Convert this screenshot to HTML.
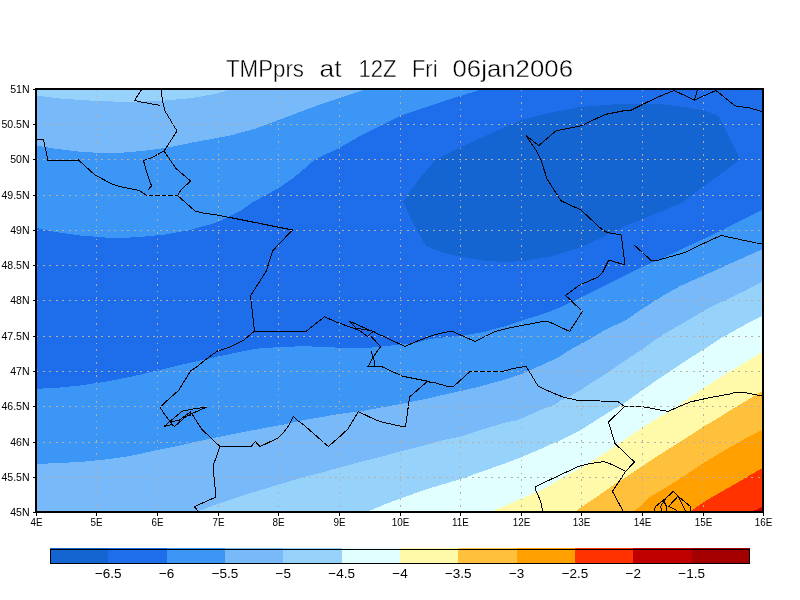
<!DOCTYPE html>
<html lang="en"><head><meta charset="utf-8"><title>TMPprs at 12Z Fri 06jan2006</title>
<style>html,body{margin:0;padding:0;background:#fff;overflow:hidden}svg{display:block}text{font-family:"Liberation Sans","DejaVu Sans",sans-serif;fill:#000}</style></head><body>
<svg width="800" height="600" viewBox="0 0 800 600">
<rect width="800" height="600" fill="#fff"/>
<defs><clipPath id="pc"><rect x="36.4" y="89.2" width="727.3" height="423.5"/></clipPath></defs>
<g clip-path="url(#pc)" shape-rendering="crispEdges">
<rect x="36.4" y="89.2" width="727.3" height="423.5" fill="#1e6eeb"/>
<polygon fill="#3c96f5" points="36.4,228.0 55.0,232.0 80.0,235.5 105.0,237.5 130.0,237.5 140.0,237.0 165.0,234.5 190.0,230.0 215.0,223.0 227.5,217.5 240.0,211.2 252.5,202.5 265.0,195.5 277.5,188.8 292.5,178.8 315.0,159.5 340.0,147.5 360.0,136.0 380.0,126.0 402.5,115.0 430.0,106.0 455.0,97.5 480.0,90.0 483.0,89.2 36.4,89.2"/>
<polygon fill="#78b9fa" points="36.4,145.5 55.0,148.7 80.0,151.7 96.0,152.7 117.5,153.0 142.5,151.0 165.0,148.0 192.5,142.5 230.0,135.5 255.0,128.8 280.0,119.5 305.0,110.0 330.0,101.0 355.0,93.0 366.0,89.2 36.4,89.2"/>
<polygon fill="#96d2fa" points="36.4,95.5 60.0,98.5 96.0,101.0 130.0,102.0 160.0,101.0 192.0,98.0 215.0,94.0 232.0,89.2 36.4,89.2"/>
<polygon fill="#1464d2" points="402.8,202.0 416.7,182.0 435.3,160.0 460.7,147.3 483.3,136.7 504.7,127.3 523.3,119.3 550.0,112.7 580.0,107.0 605.0,105.0 625.0,103.8 662.5,104.2 687.5,107.5 705.0,110.5 718.8,116.2 740.0,159.5 725.0,171.0 700.0,188.8 682.5,202.5 650.0,216.0 625.0,226.0 605.0,236.2 580.0,247.5 550.0,256.7 523.3,261.2 504.7,262.0 483.3,260.7 460.7,256.7 443.3,252.7 426.0,246.0 414.0,224.7"/>
<polygon fill="#3c96f5" points="36.4,388.8 55.0,388.0 80.0,385.5 105.0,381.8 130.0,377.0 155.0,371.2 180.0,365.0 205.0,359.5 230.0,354.0 255.0,348.8 280.0,347.0 305.0,346.2 335.0,347.5 372.0,347.5 391.0,345.5 415.0,343.0 430.0,339.0 444.0,337.4 460.6,336.0 484.0,332.0 490.0,330.0 504.0,326.5 521.4,320.8 544.0,313.5 555.0,309.5 564.0,305.5 582.0,297.0 590.0,293.0 605.0,285.5 620.0,278.0 642.5,266.7 665.0,257.0 680.0,250.2 690.0,245.2 703.3,239.2 721.7,230.5 740.0,220.8 763.6,209.3 763.6,512.7 36.4,512.7"/>
<polygon fill="#78b9fa" points="36.4,464.0 55.0,463.2 80.0,462.0 105.0,459.5 124.0,457.0 144.0,453.0 157.6,450.0 184.0,444.6 204.0,440.0 218.4,437.0 244.0,432.0 264.0,428.0 284.0,424.5 304.0,420.0 324.0,416.6 339.4,414.0 364.0,410.6 384.0,407.0 400.4,404.0 430.0,398.0 440.0,395.5 460.5,391.0 480.0,386.5 490.0,383.5 500.0,381.0 510.0,378.0 521.4,374.0 544.0,364.0 555.0,359.0 560.0,356.5 570.0,349.8 581.5,343.6 590.0,339.0 604.0,330.5 626.0,320.0 642.5,308.7 665.0,294.5 680.0,286.2 690.0,281.5 703.3,275.8 723.3,266.7 740.0,259.2 763.6,248.8 763.6,512.7 36.4,512.7"/>
<polygon fill="#96d2fa" points="194.6,512.7 199.0,511.0 218.4,503.6 244.0,495.0 264.0,489.0 284.0,483.0 304.0,477.0 324.0,472.0 339.4,467.4 364.0,461.0 384.0,456.0 400.4,451.4 424.0,445.4 444.0,440.0 460.6,436.6 484.0,429.0 504.0,423.0 518.0,420.0 544.0,408.5 555.0,404.5 560.0,400.7 570.0,396.0 581.5,389.5 590.0,383.5 600.0,377.5 610.0,371.0 620.0,364.0 630.0,357.5 642.5,349.0 660.0,336.5 670.0,330.5 680.0,325.0 690.0,319.0 703.5,311.0 715.0,305.0 726.0,300.0 745.0,290.8 763.6,281.0 763.6,512.7"/>
<polygon fill="#e1ffff" points="365.1,512.7 369.0,511.0 384.0,504.6 400.4,498.6 424.0,490.0 444.0,484.0 460.6,479.0 470.0,475.7 483.3,471.0 496.7,466.4 510.0,461.6 521.3,457.3 536.7,450.7 550.0,444.7 560.0,440.5 581.5,429.5 610.0,411.5 623.0,404.0 642.5,390.0 660.0,378.0 670.0,371.5 687.0,360.0 703.5,349.5 720.0,338.5 724.0,336.5 740.0,327.5 750.0,322.0 763.6,315.0 763.6,512.7"/>
<polygon fill="#fffaaa" points="488.7,512.7 492.7,511.0 510.0,503.7 521.3,498.7 536.7,492.0 550.0,485.5 560.0,479.0 581.5,467.5 594.0,460.0 604.0,453.5 620.0,442.5 642.5,427.5 654.0,420.0 670.0,411.0 677.0,406.5 690.0,397.0 703.5,388.0 720.0,377.5 730.0,371.5 749.0,360.0 763.6,351.5 763.6,512.7"/>
<polygon fill="#ffc03c" points="573.7,512.7 576.0,511.0 581.5,507.0 600.0,494.5 620.0,480.5 623.0,479.0 642.5,466.0 660.0,454.5 679.0,442.5 690.0,435.5 703.5,426.5 715.0,420.0 730.0,410.5 750.0,398.5 763.6,390.5 763.6,512.7"/>
<polygon fill="#ffa000" points="631.8,512.7 634.0,511.0 640.0,506.5 650.0,497.0 670.0,485.0 679.0,479.5 693.0,470.0 703.5,463.0 720.0,453.0 738.0,442.5 750.0,436.0 763.6,429.0 763.6,512.7"/>
<polygon fill="#ff3200" points="688.6,512.7 691.0,511.0 703.0,502.5 720.0,492.5 742.0,480.0 750.0,475.0 763.6,467.5 763.6,512.7"/>
<polygon fill="#c00000" points="749.0,512.7 753.0,511.0 763.6,506.5 763.6,512.7"/>
</g>
<g clip-path="url(#pc)" stroke="#000" stroke-width="1" fill="none" stroke-linejoin="round" shape-rendering="crispEdges">
<polyline points="36.4,139.2 43.5,139.5 48.0,160.5 78.5,160.0 95.0,175.0 112.0,184.0 120.0,186.5 139.0,190.5 147.0,195.5 177.5,195.5 195.0,211.0 203.0,213.0 217.0,215.0 230.0,217.5 292.5,230.0 279.0,244.0 272.5,251.2 266.2,271.2 250.5,295.8 254.5,331.2"/>
<polyline points="141.8,89.2 134.5,100.5 141.0,102.0 160.5,105.5"/>
<polyline points="161.0,89.2 162.5,101.0 165.0,111.0 177.0,131.0 164.0,151.0 151.0,158.0 143.5,160.5 146.0,170.0 151.5,186.0 147.5,190.5"/>
<polyline points="164.0,151.0 176.0,168.5 190.5,181.0 181.0,190.0 177.5,195.5"/>
<polyline points="526.0,135.5 538.8,145.5 556.0,130.8 581.0,125.8 605.0,114.5 622.5,111.0 630.0,110.8 643.8,103.8 660.0,96.2 674.0,90.5 694.5,100.0 697.5,89.2"/>
<polyline points="694.5,100.0 716.0,90.5 735.0,105.8 750.0,108.0 763.6,112.0"/>
<polyline points="526.0,135.5 537.5,152.5 541.0,160.0 547.0,178.8 561.0,200.8 581.0,210.0 602.5,230.0 607.5,232.5 621.2,235.0 625.0,265.0 608.8,260.0 602.5,272.5 598.0,277.0 579.0,285.4 565.6,295.4 582.4,311.4 569.6,331.4 548.0,321.4 540.0,322.0 512.0,327.4 495.0,331.4 475.0,341.4 452.4,331.4 444.0,332.4 430.0,336.2 415.0,342.0 405.0,346.5 375.0,332.5 349.5,321.2 356.0,328.0 372.0,331.0"/>
<polyline points="634.2,245.0 651.2,260.5 658.8,260.0 685.0,252.5 700.0,245.0 721.2,235.5 740.0,239.5 756.2,243.0 763.6,243.2"/>
<polyline points="179.0,390.0 185.0,380.0 191.0,370.5 196.0,367.5 205.0,360.0 217.5,351.0 230.0,347.0 243.8,340.0 254.5,331.2 306.2,331.2 324.5,316.8 335.0,321.5 350.0,327.0 359.5,330.5 367.5,336.5 372.0,332.2 375.5,331.5"/>
<polyline points="371.0,336.2 380.5,346.8 373.5,356.5 368.0,366.5 381.5,366.5 388.8,370.0 402.5,376.2 427.5,381.2 430.0,382.2 436.0,383.0 448.0,386.5 453.5,386.5 470.0,371.5 503.0,371.5 512.0,368.6 526.0,366.4 529.0,371.0 538.0,386.0 544.0,389.0 553.0,393.0 563.0,397.0 578.0,400.5 582.0,400.5 618.0,401.5 624.5,406.5 642.0,406.6 668.0,411.4 690.0,402.0 708.0,398.0 732.0,393.6 735.0,392.0 742.5,392.0 747.0,393.0 763.6,396.2"/>
<polyline points="371.2,351.2 372.8,357.0 374.5,361.5 374.5,366.5"/>
<polyline points="179.0,390.0 165.0,402.5 160.0,407.2 165.0,415.0 170.5,422.0 174.5,426.5"/>
<polyline points="164.0,426.5 182.0,411.2 190.0,409.5 207.0,407.0 192.0,413.5 186.0,416.5 174.5,426.5 171.5,424.5 164.0,426.5"/>
<polyline points="170.5,422.0 179.5,420.0 187.0,414.5 190.5,411.5 191.0,415.5 187.5,415.0"/>
<polyline points="192.0,414.0 201.5,429.0 220.0,446.6 251.0,446.6 255.4,441.6 260.0,446.6 278.0,438.0 284.0,432.0 289.0,425.0 293.4,416.6 298.0,421.0 302.0,423.4 328.4,446.6 341.0,435.4 348.0,429.0 358.4,411.6 375.0,419.6 384.0,422.6 402.0,426.4 405.6,426.0 409.6,397.0 414.0,393.0 416.2,391.2 427.5,381.2"/>
<polyline points="220.0,446.6 213.0,466.0 216.0,497.0 194.4,506.6 198.0,511.0"/>
<polyline points="624.5,406.5 608.5,422.0 615.0,443.5 634.4,462.0 625.6,471.4 612.4,491.4 624.0,512.7"/>
<polyline points="543.0,512.7 540.6,501.0 536.0,491.0 535.4,486.6 558.0,476.0 578.0,466.6 588.0,464.0 604.0,461.5 612.0,464.6 625.6,471.4"/>
<polyline points="653.5,512.7 655.5,506.5 665.5,498.5 673.5,491.2 678.0,496.2 690.5,506.5 690.5,512.7"/>
<polyline points="665.5,498.5 664.0,501.5 660.5,506.5 662.5,512.7"/>
<polyline points="664.0,501.5 666.2,506.0 666.2,512.7"/>
<polyline points="678.0,496.2 668.5,506.5 677.5,510.5"/>
<polyline points="678.0,496.2 686.5,512.7"/>
</g>
<g stroke="#b8aea3" stroke-width="1" stroke-dasharray="1.7,4.8" fill="none" shape-rendering="crispEdges">
<line x1="96.5" y1="89.2" x2="96.5" y2="512.7"/>
<line x1="157.5" y1="89.2" x2="157.5" y2="512.7"/>
<line x1="218.5" y1="89.2" x2="218.5" y2="512.7"/>
<line x1="278.5" y1="89.2" x2="278.5" y2="512.7"/>
<line x1="339.5" y1="89.2" x2="339.5" y2="512.7"/>
<line x1="400.5" y1="89.2" x2="400.5" y2="512.7"/>
<line x1="460.5" y1="89.2" x2="460.5" y2="512.7"/>
<line x1="521.5" y1="89.2" x2="521.5" y2="512.7"/>
<line x1="581.5" y1="89.2" x2="581.5" y2="512.7"/>
<line x1="642.5" y1="89.2" x2="642.5" y2="512.7"/>
<line x1="703.5" y1="89.2" x2="703.5" y2="512.7"/>
<line x1="36.4" y1="124.5" x2="763.6" y2="124.5"/>
<line x1="36.4" y1="159.5" x2="763.6" y2="159.5"/>
<line x1="36.4" y1="195.5" x2="763.6" y2="195.5"/>
<line x1="36.4" y1="230.5" x2="763.6" y2="230.5"/>
<line x1="36.4" y1="265.5" x2="763.6" y2="265.5"/>
<line x1="36.4" y1="300.5" x2="763.6" y2="300.5"/>
<line x1="36.4" y1="336.5" x2="763.6" y2="336.5"/>
<line x1="36.4" y1="371.5" x2="763.6" y2="371.5"/>
<line x1="36.4" y1="406.5" x2="763.6" y2="406.5"/>
<line x1="36.4" y1="442.5" x2="763.6" y2="442.5"/>
<line x1="36.4" y1="477.5" x2="763.6" y2="477.5"/>
</g>
<g stroke="#000" fill="none" shape-rendering="crispEdges">
<rect x="36" y="89" width="727" height="423" stroke-width="2"/>
<line x1="36.5" y1="513" x2="36.5" y2="516" stroke-width="1"/>
<line x1="96.5" y1="513" x2="96.5" y2="516" stroke-width="1"/>
<line x1="157.5" y1="513" x2="157.5" y2="516" stroke-width="1"/>
<line x1="218.5" y1="513" x2="218.5" y2="516" stroke-width="1"/>
<line x1="278.5" y1="513" x2="278.5" y2="516" stroke-width="1"/>
<line x1="339.5" y1="513" x2="339.5" y2="516" stroke-width="1"/>
<line x1="400.5" y1="513" x2="400.5" y2="516" stroke-width="1"/>
<line x1="460.5" y1="513" x2="460.5" y2="516" stroke-width="1"/>
<line x1="521.5" y1="513" x2="521.5" y2="516" stroke-width="1"/>
<line x1="581.5" y1="513" x2="581.5" y2="516" stroke-width="1"/>
<line x1="642.5" y1="513" x2="642.5" y2="516" stroke-width="1"/>
<line x1="703.5" y1="513" x2="703.5" y2="516" stroke-width="1"/>
<line x1="763.5" y1="513" x2="763.5" y2="516" stroke-width="1"/>
<line x1="33" y1="89.5" x2="35" y2="89.5" stroke-width="1"/>
<line x1="33" y1="124.5" x2="35" y2="124.5" stroke-width="1"/>
<line x1="33" y1="159.5" x2="35" y2="159.5" stroke-width="1"/>
<line x1="33" y1="195.5" x2="35" y2="195.5" stroke-width="1"/>
<line x1="33" y1="230.5" x2="35" y2="230.5" stroke-width="1"/>
<line x1="33" y1="265.5" x2="35" y2="265.5" stroke-width="1"/>
<line x1="33" y1="300.5" x2="35" y2="300.5" stroke-width="1"/>
<line x1="33" y1="336.5" x2="35" y2="336.5" stroke-width="1"/>
<line x1="33" y1="371.5" x2="35" y2="371.5" stroke-width="1"/>
<line x1="33" y1="406.5" x2="35" y2="406.5" stroke-width="1"/>
<line x1="33" y1="442.5" x2="35" y2="442.5" stroke-width="1"/>
<line x1="33" y1="477.5" x2="35" y2="477.5" stroke-width="1"/>
<line x1="33" y1="512.5" x2="35" y2="512.5" stroke-width="1"/>
</g>
<g font-size="11.5px">
<text transform="translate(36.5,526) scale(0.86,1)" text-anchor="middle">4E</text>
<text transform="translate(96.5,526) scale(0.86,1)" text-anchor="middle">5E</text>
<text transform="translate(157.5,526) scale(0.86,1)" text-anchor="middle">6E</text>
<text transform="translate(218.5,526) scale(0.86,1)" text-anchor="middle">7E</text>
<text transform="translate(278.5,526) scale(0.86,1)" text-anchor="middle">8E</text>
<text transform="translate(339.5,526) scale(0.86,1)" text-anchor="middle">9E</text>
<text transform="translate(400.5,526) scale(0.86,1)" text-anchor="middle">10E</text>
<text transform="translate(460.5,526) scale(0.86,1)" text-anchor="middle">11E</text>
<text transform="translate(521.5,526) scale(0.86,1)" text-anchor="middle">12E</text>
<text transform="translate(581.5,526) scale(0.86,1)" text-anchor="middle">13E</text>
<text transform="translate(642.5,526) scale(0.86,1)" text-anchor="middle">14E</text>
<text transform="translate(703.5,526) scale(0.86,1)" text-anchor="middle">15E</text>
<text transform="translate(763.5,526) scale(0.86,1)" text-anchor="middle">16E</text>
<text transform="translate(29.6,93.4) scale(0.92,1)" text-anchor="end">51N</text>
<text transform="translate(29.6,128.4) scale(0.92,1)" text-anchor="end">50.5N</text>
<text transform="translate(29.6,163.4) scale(0.92,1)" text-anchor="end">50N</text>
<text transform="translate(29.6,199.4) scale(0.92,1)" text-anchor="end">49.5N</text>
<text transform="translate(29.6,234.4) scale(0.92,1)" text-anchor="end">49N</text>
<text transform="translate(29.6,269.4) scale(0.92,1)" text-anchor="end">48.5N</text>
<text transform="translate(29.6,304.4) scale(0.92,1)" text-anchor="end">48N</text>
<text transform="translate(29.6,340.4) scale(0.92,1)" text-anchor="end">47.5N</text>
<text transform="translate(29.6,375.4) scale(0.92,1)" text-anchor="end">47N</text>
<text transform="translate(29.6,410.4) scale(0.92,1)" text-anchor="end">46.5N</text>
<text transform="translate(29.6,446.4) scale(0.92,1)" text-anchor="end">46N</text>
<text transform="translate(29.6,481.4) scale(0.92,1)" text-anchor="end">45.5N</text>
<text transform="translate(29.6,516.4) scale(0.92,1)" text-anchor="end">45N</text>
</g>
<text y="77" font-size="24px" stroke="#fff" stroke-width="0.4" paint-order="fill stroke"><tspan x="226.0" textLength="78.0" lengthAdjust="spacingAndGlyphs">TMPprs</tspan> <tspan x="319.5" textLength="22.0" lengthAdjust="spacingAndGlyphs">at</tspan> <tspan x="358.5" textLength="38.0" lengthAdjust="spacingAndGlyphs">12Z</tspan> <tspan x="412.0" textLength="25.5" lengthAdjust="spacingAndGlyphs">Fri</tspan> <tspan x="452.5" textLength="120.5" lengthAdjust="spacingAndGlyphs">06jan2006</tspan></text>
<g shape-rendering="crispEdges">
<rect x="50.00" y="548.0" width="58.83" height="16.0" fill="#1464d2"/>
<rect x="108.33" y="548.0" width="58.83" height="16.0" fill="#1e6eeb"/>
<rect x="166.67" y="548.0" width="58.83" height="16.0" fill="#3c96f5"/>
<rect x="225.00" y="548.0" width="58.83" height="16.0" fill="#78b9fa"/>
<rect x="283.33" y="548.0" width="58.83" height="16.0" fill="#96d2fa"/>
<rect x="341.67" y="548.0" width="58.83" height="16.0" fill="#e1ffff"/>
<rect x="400.00" y="548.0" width="58.83" height="16.0" fill="#fffaaa"/>
<rect x="458.33" y="548.0" width="58.83" height="16.0" fill="#ffc03c"/>
<rect x="516.67" y="548.0" width="58.83" height="16.0" fill="#ffa000"/>
<rect x="575.00" y="548.0" width="58.83" height="16.0" fill="#ff3200"/>
<rect x="633.33" y="548.0" width="58.83" height="16.0" fill="#c00000"/>
<rect x="691.67" y="548.0" width="58.33" height="16.0" fill="#a50000"/>
<rect x="50.5" y="549.5" width="699.0" height="14.0" fill="none" stroke="#000" stroke-width="1"/>
</g>
<g font-size="13.5px">
<text x="108.3" y="577.5" text-anchor="middle">−6.5</text>
<text x="166.7" y="577.5" text-anchor="middle">−6</text>
<text x="225.0" y="577.5" text-anchor="middle">−5.5</text>
<text x="283.3" y="577.5" text-anchor="middle">−5</text>
<text x="341.7" y="577.5" text-anchor="middle">−4.5</text>
<text x="400.0" y="577.5" text-anchor="middle">−4</text>
<text x="458.3" y="577.5" text-anchor="middle">−3.5</text>
<text x="516.7" y="577.5" text-anchor="middle">−3</text>
<text x="575.0" y="577.5" text-anchor="middle">−2.5</text>
<text x="633.3" y="577.5" text-anchor="middle">−2</text>
<text x="691.7" y="577.5" text-anchor="middle">−1.5</text>
</g>
</svg></body></html>
